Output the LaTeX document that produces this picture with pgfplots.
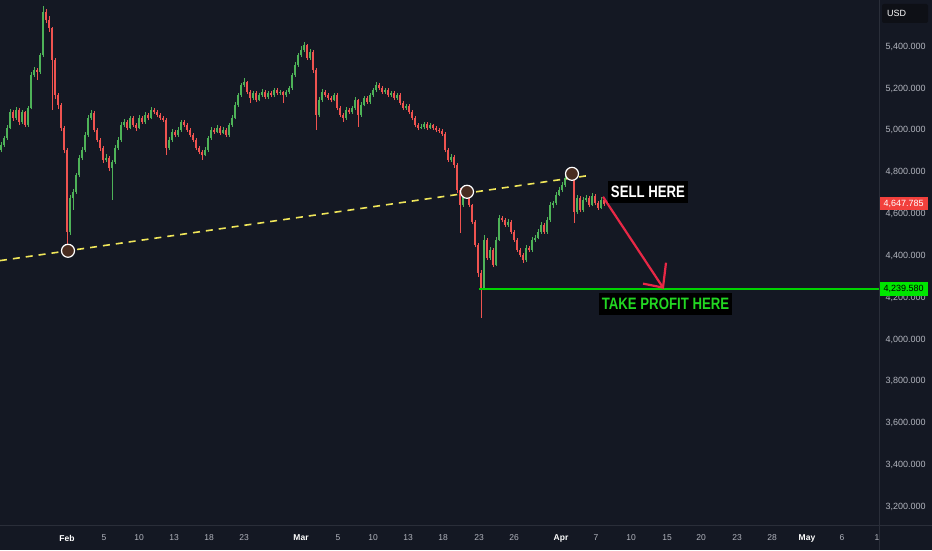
\documentclass[border=0pt]{standalone}
\usepackage{pgfplots}
\pgfplotsset{compat=1.18}
\usepackage{pgfplotstable}
\usepackage{fontspec}
\setmainfont{Liberation Sans}
\newfontfamily\condfont[FakeStretch=0.8]{Liberation Sans}
\definecolor{bg}{RGB}{20,24,35}
\definecolor{sep}{RGB}{42,46,57}
\definecolor{tickgray}{RGB}{178,181,190}
\definecolor{cgreen}{RGB}{78,178,88}
\definecolor{cred}{RGB}{239,83,80}
\definecolor{dashyel}{RGB}{240,230,90}
\definecolor{tpgreen}{RGB}{34,215,34}
\definecolor{tpbox}{RGB}{0,230,0}
\definecolor{tpline}{RGB}{0,210,0}
\definecolor{arrowred}{RGB}{232,40,70}
\definecolor{pricered}{RGB}{242,64,60}
\definecolor{usdbox}{RGB}{14,16,22}
\definecolor{circfill}{RGB}{72,44,32}

\pgfplotstableread{
x o h l c
1 4905 4945 4895 4931
4 4931 4975 4922 4964
7 4964 5025 4955 5012
10 5012 5100 5005 5088
13 5088 5098 5045 5060
16 5060 5110 5050 5098
19 5098 5105 5025 5040
22 5040 5095 5032 5088
25 5088 5094 5015 5026
28 5026 5118 5018 5107
31 5107 5278 5100 5265
34 5265 5302 5255 5289
37 5289 5300 5240 5279
40 5279 5372 5270 5360
43 5360 5594 5350 5566
46 5566 5580 5515 5528
49 5528 5545 5470 5489
52 5489 5495 5098 5337
55 5337 5345 5150 5169
58 5169 5180 5100 5122
61 5122 5130 4995 5012
64 5012 5020 4890 4907
67 4907 4915 4453 4515
70 4515 4690 4500 4678
73 4678 4720 4620 4706
76 4706 4798 4695 4787
79 4787 4880 4775 4869
82 4869 4920 4858 4907
85 4907 4990 4895 4978
88 4978 5072 4968 5060
91 5060 5098 5050 5083
94 5083 5090 4990 5002
97 5002 5012 4942 4955
100 4955 4965 4900 4916
103 4916 4925 4845 4859
106 4859 4885 4850 4869
109 4869 4878 4805 4821
112 4821 4860 4668 4849
115 4849 4928 4840 4916
118 4916 4966 4905 4955
121 4955 5038 4945 5026
124 5026 5052 5015 5040
127 5040 5048 5000 5012
130 5012 5070 5004 5060
133 5060 5068 5015 5026
136 5026 5035 4998 5012
139 5012 5072 5005 5060
142 5060 5068 5030 5040
145 5040 5086 5032 5074
148 5074 5082 5048 5060
151 5060 5112 5052 5098
154 5098 5106 5078 5088
157 5088 5096 5062 5074
160 5074 5082 5050 5060
163 5060 5068 5040 5050
166 5050 5058 4883 4916
169 4916 4966 4905 4955
172 4955 5004 4945 4993
175 4993 5000 4966 4978
178 4978 5014 4970 5002
181 5002 5050 4994 5040
184 5040 5048 5016 5026
187 5026 5034 4992 5002
190 5002 5010 4966 4978
193 4978 4986 4944 4955
196 4955 4962 4904 4916
199 4916 4925 4885 4897
202 4897 4905 4859 4883
205 4883 4918 4875 4907
208 4907 4975 4898 4964
211 4964 5014 4955 5002
214 5002 5010 4982 4993
217 4993 5024 4985 5012
220 5012 5020 4976 4988
223 4988 5014 4980 5002
226 5002 5010 4968 4978
229 4978 5036 4970 5026
232 5026 5072 5018 5060
235 5060 5134 5052 5122
238 5122 5180 5112 5169
241 5169 5228 5160 5217
244 5217 5250 5208 5231
247 5231 5238 5172 5184
250 5184 5192 5130 5155
253 5155 5190 5146 5179
256 5179 5186 5135 5146
259 5146 5180 5138 5169
262 5169 5196 5160 5184
265 5184 5192 5150 5160
268 5160 5190 5152 5179
271 5179 5186 5158 5169
274 5169 5204 5160 5193
277 5193 5200 5170 5179
280 5179 5194 5170 5184
283 5184 5190 5131 5169
286 5169 5194 5160 5184
289 5184 5214 5175 5203
292 5203 5276 5195 5265
295 5265 5325 5255 5313
298 5313 5372 5303 5360
301 5360 5405 5350 5384
304 5384 5420 5375 5408
307 5408 5414 5335 5346
310 5346 5388 5338 5375
313 5375 5382 5275 5289
316 5289 5296 5002 5074
319 5074 5158 5064 5146
322 5146 5196 5136 5184
325 5184 5192 5158 5169
328 5169 5176 5144 5155
331 5155 5164 5134 5146
334 5146 5180 5138 5169
337 5169 5176 5095 5107
340 5107 5115 5062 5074
343 5074 5084 5040 5060
346 5060 5110 5050 5098
349 5098 5106 5078 5088
352 5088 5118 5080 5107
355 5107 5158 5098 5146
358 5146 5152 5017 5074
361 5074 5134 5064 5122
364 5122 5166 5114 5155
367 5155 5162 5126 5136
370 5136 5180 5128 5169
373 5169 5204 5160 5193
376 5193 5230 5185 5217
379 5217 5226 5192 5203
382 5203 5210 5172 5184
385 5184 5204 5175 5193
388 5193 5200 5158 5169
391 5169 5190 5160 5179
394 5179 5186 5144 5155
397 5155 5180 5146 5169
400 5169 5176 5120 5131
403 5131 5138 5096 5107
406 5107 5128 5098 5117
409 5117 5124 5076 5088
412 5088 5095 5048 5060
415 5060 5068 5014 5026
418 5026 5034 5000 5012
421 5012 5030 5004 5017
424 5017 5042 5008 5031
427 5031 5038 5002 5012
430 5012 5036 5004 5026
433 5026 5032 5002 5012
436 5012 5020 4992 5002
439 5002 5010 4986 4997
442 4997 5004 4972 4983
445 4983 4990 4895 4907
448 4907 4915 4848 4859
451 4859 4886 4850 4873
454 4873 4880 4822 4835
457 4835 4842 4700 4716
460 4716 4722 4510 4644
463 4644 4704 4634 4692
466 4692 4730 4684 4716
469 4716 4724 4632 4644
472 4644 4650 4550 4563
475 4563 4570 4440 4453
478 4453 4460 4300 4320
481 4320 4330 4105 4245
484 4245 4500 4235 4477
487 4477 4485 4380 4391
490 4391 4440 4382 4429
493 4429 4436 4345 4358
496 4358 4488 4350 4477
499 4477 4594 4470 4582
502 4582 4590 4560 4572
505 4572 4580 4538 4549
508 4549 4575 4540 4563
511 4563 4570 4504 4515
514 4515 4522 4466 4477
517 4477 4484 4418 4429
520 4429 4436 4394 4405
523 4405 4412 4368 4381
526 4381 4450 4372 4439
529 4439 4446 4418 4429
532 4429 4488 4420 4477
535 4477 4498 4468 4486
538 4486 4526 4478 4515
541 4515 4560 4506 4549
544 4549 4556 4504 4515
547 4515 4584 4506 4572
550 4572 4656 4564 4644
553 4644 4664 4630 4652
556 4652 4704 4642 4692
559 4692 4728 4684 4716
562 4716 4752 4706 4740
565 4740 4784 4730 4773
568 4773 4796 4762 4783
571 4783 4821 4772 4802
574 4802 4808 4558 4611
577 4611 4690 4600 4678
580 4678 4686 4608 4620
583 4620 4680 4610 4668
586 4668 4690 4658 4678
589 4678 4686 4632 4644
592 4644 4698 4636 4687
595 4687 4694 4642 4654
598 4654 4662 4620 4630
601 4630 4680 4622 4668
604 4668 4676 4638 4647.785
}\candles

\begin{document}
\begin{tikzpicture}
\useasboundingbox (0,0) rectangle (932pt,550pt);
\fill[bg] (0,0) rectangle (932pt,550pt);
\begin{axis}[
  at={(0pt,25pt)}, anchor=south west,
  scale only axis, width=879pt, height=525pt,
  xmin=0, xmax=879, ymin=3113, ymax=5623,
  clip=false,
  axis line style={draw=none},
  major tick length=0pt,
  scaled y ticks=false,
  ytick={3200,3400,3600,3800,4000,4200,4400,4600,4800,5000,5200,5400},
  yticklabel pos=right,
  /pgf/number format/fixed,
  /pgf/number format/fixed zerofill,
  /pgf/number format/precision=3,
  /pgf/number format/1000 sep={,},
  /pgf/number format/assume math mode=true,
  yticklabel style={anchor=west, xshift=3pt, text=tickgray, font=\fontsize{9}{10}\selectfont},
  xtick={67,104,139,174,209,244,301,338,373,408,443,479,514,561,596,631,667,701,737,772,807,842,877},
  xticklabels={{\textcolor{white}{\textbf{Feb}}},5,10,13,18,23,{\textcolor{white}{\textbf{Mar}}},5,10,13,18,23,26,{\textcolor{white}{\textbf{Apr}}},7,10,15,20,23,28,{\textcolor{white}{\textbf{May}}},6,1},
  xticklabel style={anchor=center, yshift=-13pt, text=tickgray, font=\fontsize{8.5}{10}\selectfont},
]
% wicks
\addplot[draw=none, mark=none, forget plot,
  x filter/.expression={\thisrow{c}>=\thisrow{o} ? x : nan},
  error bars/.cd, y dir=plus, y explicit, error mark=none,
  error bar style={color=cgreen, line width=1pt}]
  table[x=x, y=l, y error expr=\thisrow{h}-\thisrow{l}] {\candles};
\addplot[draw=none, mark=none, forget plot,
  x filter/.expression={\thisrow{c}<\thisrow{o} ? x : nan},
  error bars/.cd, y dir=plus, y explicit, error mark=none,
  error bar style={color=cred, line width=1pt}]
  table[x=x, y=l, y error expr=\thisrow{h}-\thisrow{l}] {\candles};
% bodies
\addplot[draw=none, mark=none, forget plot,
  x filter/.expression={\thisrow{c}>=\thisrow{o} ? x : nan},
  error bars/.cd, y dir=both, y explicit, error mark=none,
  error bar style={color=cgreen, line width=2.4pt}]
  table[x=x, y expr=(\thisrow{o}+\thisrow{c})/2, y error expr=abs(\thisrow{c}-\thisrow{o})/2] {\candles};
\addplot[draw=none, mark=none, forget plot,
  x filter/.expression={\thisrow{c}<\thisrow{o} ? x : nan},
  error bars/.cd, y dir=both, y explicit, error mark=none,
  error bar style={color=cred, line width=2.4pt}]
  table[x=x, y expr=(\thisrow{o}+\thisrow{c})/2, y error expr=abs(\thisrow{c}-\thisrow{o})/2] {\candles};
% take profit line
\addplot[draw=tpline, line width=1.8pt] coordinates {(479,4239.58) (879,4239.58)};
% trend line
\addplot[color=dashyel, line width=1.6pt, dash pattern=on 7pt off 6pt] coordinates {(0,4377) (586,4782)};
% circles
\addplot[only marks, mark=*, mark size=6.5pt,
  mark options={draw=white, line width=1.2pt, fill=circfill}]
  coordinates {(68,4424) (467,4706) (572,4792)};
% arrow
\addplot[color=arrowred, line width=2.2pt] coordinates {(603,4682) (663,4248)};
\addplot[color=arrowred, line width=2.2pt, line join=miter] coordinates {(643,4267) (663,4248) (666,4367)};
% labels
\node[fill=black, text=white, inner xsep=3pt, inner ysep=5pt, font=\condfont\bfseries\fontsize{16.5}{18}\selectfont] at (axis cs:648,4706) {SELL HERE};
\node[fill=black, text=tpgreen, inner xsep=3pt, inner ysep=5pt, font=\condfont\bfseries\fontsize{16.5}{18}\selectfont] at (axis cs:665.5,4169) {TAKE PROFIT HERE};
\node[fill=pricered, text=white, anchor=west, inner sep=0pt, minimum width=49pt, minimum height=13pt, font=\fontsize{9}{10}\selectfont] at (axis cs:879,4647.785) {4,647.785};
\node[fill=tpbox, text=black, anchor=west, inner sep=0pt, minimum width=49pt, minimum height=14pt, font=\fontsize{9}{10}\selectfont] at (axis cs:879,4239.58) {4,239.580};
\end{axis}
\draw[sep, line width=0.8pt] (879.4pt,0) -- (879.4pt,550pt);
\draw[sep, line width=0.8pt] (0,25pt) -- (932pt,25pt);
\fill[usdbox, rounded corners=2pt] (882pt,527pt) rectangle (928pt,546pt);
\node[anchor=west, text=white, inner sep=0pt, font=\fontsize{9}{10}\selectfont] at (887pt,536.5pt) {USD};
\end{tikzpicture}
\end{document}
